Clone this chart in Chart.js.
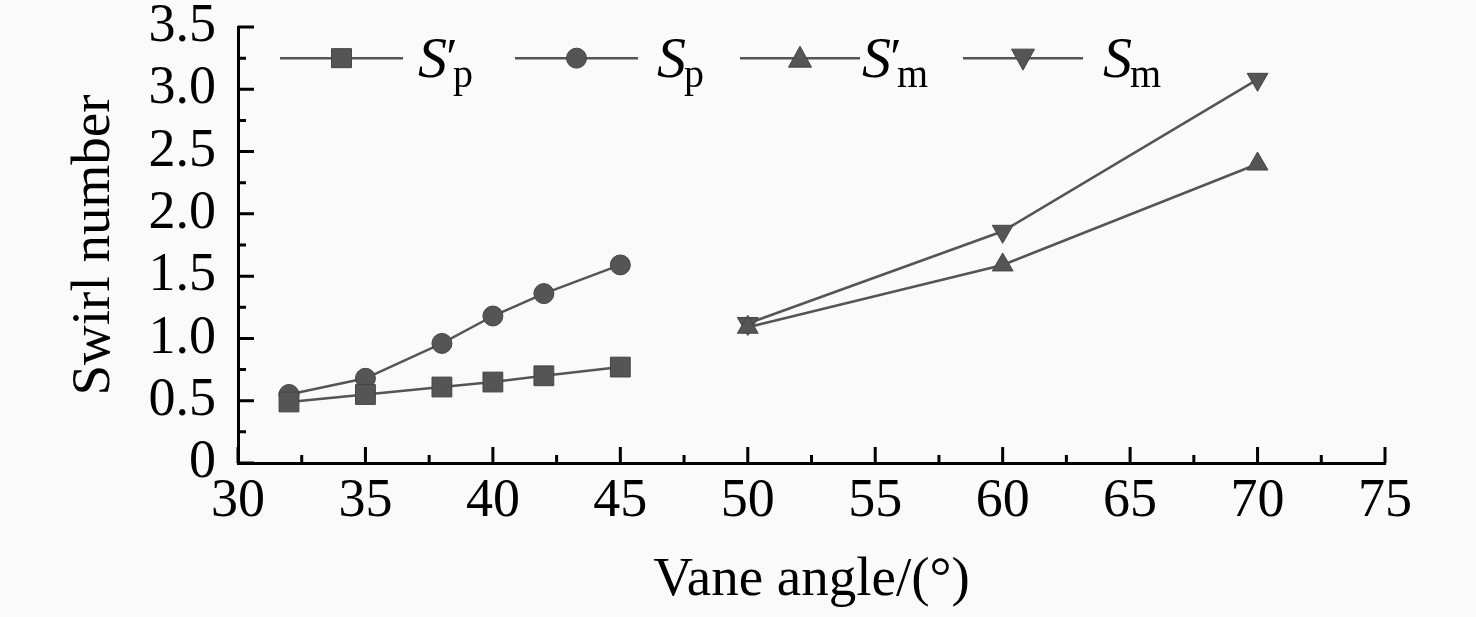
<!DOCTYPE html>
<html>
<head>
<meta charset="utf-8">
<title>Swirl number vs vane angle</title>
<script src="https://cdn.jsdelivr.net/npm/chart.js@4/dist/chart.umd.min.js"></script>
<style>
    html, body { margin: 0; padding: 0; background: #fafafa; }
    #wrap { width: 1476px; height: 617px; }
</style>
</head>
<body>
<div id="wrap"><canvas id="swirlChart" width="1476" height="617"></canvas></div>
<script>
// Data
var anglesP = [32, 35, 38, 40, 42, 45];
var sPrimeP = [0.49, 0.55, 0.61, 0.65, 0.70, 0.77];
var sP = [0.55, 0.68, 0.96, 1.18, 1.36, 1.59];

var anglesM = [50, 60, 70];
var sPrimeM = [1.09, 1.59, 2.40];
var sM = [1.12, 1.86, 3.08];

var xTicks = [30, 35, 40, 45, 50, 55, 60, 65, 70, 75];
var xMinorTicks = [32.5, 37.5, 42.5, 47.5, 52.5, 57.5, 62.5, 67.5, 72.5];
var yTicks = [0, 0.5, 1.0, 1.5, 2.0, 2.5, 3.0, 3.5];
var yMinorTicks = [0.25, 0.75, 1.25, 1.75, 2.25, 2.75, 3.25];

var seriesNames = ["S'p", "Sp", "S'm", "Sm"];

var INK = '#555555';
var SERIF = '"Liberation Serif", "Times New Roman", serif';

function toPoints(xs, ys) {
    return xs.map(function (x, i) { return { x: x, y: ys[i] }; });
}

// Draw a marker like the ones in the plot
function drawMarker(ctx, style, x, y) {
    ctx.save();
    ctx.fillStyle = INK;
    ctx.strokeStyle = '#444444';
    ctx.lineWidth = 1;
    ctx.beginPath();
    if (style === 'rect') {
        ctx.rect(x - 10, y - 9.5, 20, 19);
    } else if (style === 'circle') {
        ctx.arc(x, y, 10, 0, Math.PI * 2);
    } else if (style === 'up') {
        ctx.moveTo(x, y - 12);
        ctx.lineTo(x + 11.5, y + 9);
        ctx.lineTo(x - 11.5, y + 9);
        ctx.closePath();
    } else {
        ctx.moveTo(x, y + 12);
        ctx.lineTo(x + 11.5, y - 9);
        ctx.lineTo(x - 11.5, y - 9);
        ctx.closePath();
    }
    ctx.fill();
    ctx.stroke();
    ctx.restore();
}

// Inward major / minor ticks on both axes
var innerTicks = {
    id: 'innerTicks',
    afterDatasetsDraw: function (chart) {
        var ctx = chart.ctx;
        var xs = chart.scales.x, ys = chart.scales.y;
        var bottom = chart.chartArea.bottom, left = chart.chartArea.left;
        ctx.save();
        ctx.strokeStyle = '#000';
        ctx.lineWidth = 3;
        ctx.beginPath();
        xTicks.forEach(function (v) {
            var px = xs.getPixelForValue(v);
            ctx.moveTo(px, bottom); ctx.lineTo(px, bottom - 16);
        });
        xMinorTicks.forEach(function (v) {
            var px = xs.getPixelForValue(v);
            ctx.moveTo(px, bottom); ctx.lineTo(px, bottom - 8);
        });
        yTicks.forEach(function (v) {
            var py = ys.getPixelForValue(v);
            ctx.moveTo(left, py); ctx.lineTo(left + 16, py);
        });
        yMinorTicks.forEach(function (v) {
            var py = ys.getPixelForValue(v);
            ctx.moveTo(left, py); ctx.lineTo(left + 8, py);
        });
        ctx.stroke();
        ctx.restore();
    }
};

// Legend with italic S, prime and subscripts
var legendItems = [
    { name: 'S', prime: true, sub: 'p', marker: 'rect', x1: 280, x2: 403, textX: 418 },
    { name: 'S', prime: false, sub: 'p', marker: 'circle', x1: 515, x2: 638, textX: 657 },
    { name: 'S', prime: true, sub: 'm', marker: 'up', x1: 740, x2: 860, textX: 862 },
    { name: 'S', prime: false, sub: 'm', marker: 'down', x1: 963, x2: 1083, textX: 1103 }
];

var subLegend = {
    id: 'subLegend',
    afterDraw: function (chart) {
        var ctx = chart.ctx;
        var y = chart.scales.y.getPixelForValue(3.25);
        legendItems.forEach(function (it) {
            ctx.save();
            ctx.strokeStyle = INK;
            ctx.lineWidth = 2.5;
            ctx.beginPath();
            ctx.moveTo(it.x1, y);
            ctx.lineTo(it.x2, y);
            ctx.stroke();
            drawMarker(ctx, it.marker, (it.x1 + it.x2) / 2, y);

            ctx.fillStyle = '#000';
            ctx.textBaseline = 'alphabetic';
            ctx.textAlign = 'left';
            ctx.font = 'italic 58px ' + SERIF;
            var base = y + 19;
            ctx.fillText(it.name, it.textX, base);
            var w = ctx.measureText(it.name).width;
            if (it.prime) {
                ctx.font = 'italic 52px ' + SERIF;
                ctx.fillText('\u2032', it.textX + w - 4, base - 2);
            }
            ctx.font = '40px ' + SERIF;
            ctx.fillText(it.sub, it.textX + w + (it.prime ? 6 : -2), base + 10);
            ctx.restore();
        });
    }
};

function lineSet(label, xs, ys, style, radius, rotation) {
    return {
        label: label,
        data: toPoints(xs, ys),
        showLine: true,
        borderColor: INK,
        borderWidth: 2.5,
        backgroundColor: INK,
        pointStyle: style,
        pointRadius: radius,
        pointRotation: rotation || 0,
        pointBorderColor: '#444444',
        pointBorderWidth: 1,
        pointBackgroundColor: INK,
        tension: 0
    };
}

var ctx = document.getElementById('swirlChart').getContext('2d');
var swirlChart = new Chart(ctx, {
    type: 'scatter',
    data: {
        datasets: [
            lineSet(seriesNames[0], anglesP, sPrimeP, 'rect', 14),
            lineSet(seriesNames[1], anglesP, sP, 'circle', 10),
            lineSet(seriesNames[2], anglesM, sPrimeM, 'triangle', 12),
            lineSet(seriesNames[3], anglesM, sM, 'triangle', 12, 180)
        ]
    },
    options: {
        responsive: false,
        animation: false,
        devicePixelRatio: 1,
        layout: { padding: { top: 27, right: 91, left: 0, bottom: 0 } },
        plugins: {
            legend: { display: false },
            tooltip: { enabled: false }
        },
        scales: {
            x: {
                type: 'linear',
                min: 30,
                max: 75,
                afterBuildTicks: function (scale) {
                    scale.ticks = xTicks.map(function (v) { return { value: v }; });
                },
                afterFit: function (scale) {
                    scale.height = 154;
                    scale.paddingLeft = 0;
                    scale.paddingRight = 0;
                },
                grid: { display: false, drawTicks: false },
                border: { display: true, color: '#000', width: 3 },
                ticks: {
                    color: '#000',
                    padding: 12,
                    maxRotation: 0,
                    font: { family: SERIF, size: 54, lineHeight: 1 }
                },
                title: {
                    display: true,
                    text: 'Vane angle/(\u00b0)',
                    color: '#000',
                    font: { family: SERIF, size: 55, lineHeight: 1.2 },
                    padding: { top: 0, bottom: 3 }
                }
            },
            y: {
                type: 'linear',
                min: 0,
                max: 3.5,
                afterBuildTicks: function (scale) {
                    scale.ticks = yTicks.map(function (v) { return { value: v }; });
                },
                afterFit: function (scale) {
                    scale.width = 238;
                    scale.paddingTop = 0;
                    scale.paddingBottom = 0;
                },
                grid: { display: false, drawTicks: false },
                border: { display: true, color: '#000', width: 3 },
                ticks: {
                    color: '#000',
                    padding: 22,
                    font: { family: SERIF, size: 54, lineHeight: 1 },
                    callback: function (v) { return v === 0 ? '0' : v.toFixed(1); }
                },
                title: {
                    display: true,
                    text: 'Swirl number',
                    color: '#000',
                    font: { family: SERIF, size: 55, lineHeight: 1.2 },
                    padding: { top: 62, bottom: 0 }
                }
            }
        }
    },
    plugins: [innerTicks, subLegend]
});
</script>
</body>
</html>
